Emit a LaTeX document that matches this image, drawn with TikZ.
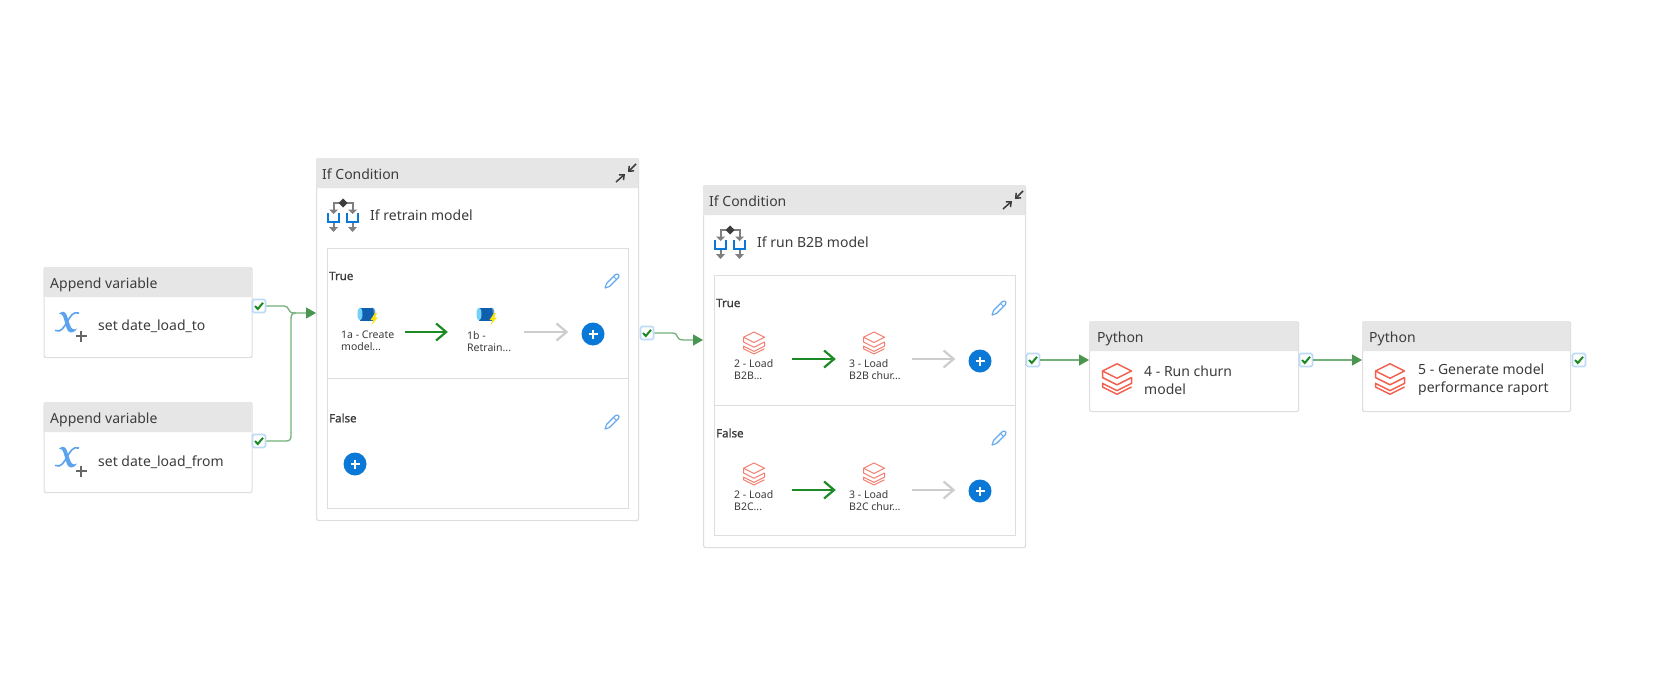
\documentclass[tikz,border=0pt]{standalone}
\usepackage{fontspec}
\setmainfont{Noto Sans}
\newfontfamily\heavyface[FakeBold=1.4]{Noto Sans}
\usetikzlibrary{arrows.meta}
\definecolor{hdrfill}{HTML}{E6E6E6}
\definecolor{edgeg}{HTML}{DEDEDE}
\definecolor{inkg}{HTML}{3C3C3C}
\definecolor{linkg}{HTML}{74B07A}
\definecolor{headg}{HTML}{4A9650}
\definecolor{okg}{HTML}{1E8A26}
\definecolor{ghost}{HTML}{CDCDCD}
\definecolor{btnb}{HTML}{0A78D7}
\definecolor{penb}{HTML}{62A9EE}
\definecolor{dbred}{HTML}{F2604F}
\definecolor{dbsoft}{HTML}{F47F70}
\definecolor{varb}{HTML}{5BA3EE}
\definecolor{pipeb}{HTML}{0F5FAE}
\definecolor{glowb}{HTML}{BBDBF7}
\tikzset{
  cardshape/.style={draw=edgeg,line width=1.2pt,fill=white,rounded corners=2pt,inner sep=0pt,anchor=north west},
  panelshape/.style={draw=edgeg,line width=1.2pt,fill=white,inner sep=0pt,anchor=north west,minimum width=301pt,minimum height=130pt},
  headtext/.style={anchor=base west,inner sep=0pt,text=inkg,font=\fontsize{14}{16}\selectfont},
  bodytext/.style={anchor=base west,inner sep=0pt,text=inkg,font=\fontsize{14}{17.6}\selectfont},
  bodytwo/.style={anchor=west,inner sep=0pt,text=inkg,font=\fontsize{14}{17.6}\selectfont,align=left},
  smalltext/.style={anchor=north west,inner sep=0pt,text=inkg,font=\fontsize{10.5}{12}\selectfont,align=left},
  boldtext/.style={anchor=west,inner sep=0pt,text=inkg,font=\fontsize{11.5}{13}\heavyface},
  chkbox/.style={draw=glowb,line width=1.6pt,fill=white,rounded corners=1.5pt,minimum size=13pt,inner sep=0pt},
  addbtn/.style={circle,fill=btnb,minimum size=23pt,inner sep=0pt},
  slotbox/.style={inner sep=0pt,minimum width=76pt,minimum height=40pt},
  link/.style={draw=linkg,line width=1.3pt,-{Triangle[length=10pt,width=11pt,color=headg]}},
  donearrow/.style={draw=okg,line width=2.2pt,-{Straight Barb[length=10pt,width=17pt]}},
  nextarrow/.style={draw=ghost,line width=2.2pt,shorten >=13pt,-{Straight Barb[length=10pt,width=17pt]}},
  dbsmall/.pic={\begin{scope}[scale=10.5]
    \draw[dbsoft,line width=1pt,line join=round] (-1,-.55)--(0,-1.05)--(1,-.55)--(0,-.05)--cycle;
    \draw[dbsoft,line width=1pt,line join=round] (-1,-.55)--(-1,-.1)--(0,.4)--(1,-.1)--(1,.3)--(0,.8)--(-1,.3)--(-1,.55)--(0,1.05)--(1,.55);
  \end{scope}},
  dbbig/.pic={\begin{scope}[scale=14.5]
    \draw[dbred,line width=1.5pt,line join=round] (-1,-.55)--(0,-1.05)--(1,-.55)--(0,-.05)--cycle;
    \draw[dbred,line width=1.5pt,line join=round] (-1,-.55)--(-1,-.1)--(0,.4)--(1,-.1)--(1,.3)--(0,.8)--(-1,.3)--(-1,.55)--(0,1.05)--(1,.55);
  \end{scope}},
  pipeicon/.pic={
    \fill[pipeb] (-7,-6.5) rectangle (6,6.5);
    \fill[cyan!55!white] (-7,0) ellipse (2.5 and 6.5);
    \fill[pipeb!60!white] (6,0) ellipse (2.5 and 6.5);
    \fill[pipeb] (5,0) ellipse (1.8 and 6.5);
    \fill[yellow!85!orange] (8,-1)--(3.5,6)--(6.5,6)--(4.5,11)--(11,3.5)--(8,3.5)--(10,-1)--cycle;
  },
  penicon/.pic={
    \draw[penb,line width=1.1pt,line join=round] (-7,7)--(-5.5,2.5)--(3.5,-6.5)--(5.5,-7)--(7,-5.5)--(6.5,-3.5)--(-2.5,5.5)--cycle;
    \draw[penb,line width=.8pt] (1.5,-4.5)--(4.5,-1.5);
  },
  varicon/.pic={
    \fill[varb] (-8,-8.5) .. controls (-4,-11.5) and (-1.5,-10.5) .. (0,-6) -- (3,3) .. controls (4,7) and (7,8.5) .. (10,6.5) .. controls (8,10) and (4,12) .. (1,9) .. controls (-1,6) and (-2,0) .. (-3,-3) .. controls (-4,-7) and (-6,-9) .. (-8,-8.5) -- cycle;
    \draw[varb,line width=1.6pt,line cap=round] (11.5,-9) .. controls (6,-11) and (3,-5) .. (0,0) .. controls (-3,5) and (-6,11) .. (-11.5,8.5);
    \draw[black!60,line width=1.8pt] (14,8.5)--(14,19.5) (8.5,14)--(19.5,14);
  },
  ificon/.pic={
    \draw[black!50,line width=2pt] (-9.5,8)--(-9.5,0)--(9.5,0)--(9.5,8);
    \draw[black!50,line width=2pt] (-9.5,19)--(-9.5,25) (9.5,19)--(9.5,25);
    \fill[black!50] (-14,24)--(-5,24)--(-9.5,29)--cycle (5,24)--(14,24)--(9.5,29)--cycle (-14,6.5)--(-5,6.5)--(-9.5,11)--cycle (5,6.5)--(14,6.5)--(9.5,11)--cycle;
    \draw[btnb,line width=2.8pt] (-15,10)--(-15,19)--(-4,19)--(-4,10) (4,10)--(4,19)--(15,19)--(15,10);
    \fill[inkg] (0,-4.5)--(4.5,0)--(0,4.5)--(-4.5,0)--cycle;
  }
}
% name, x, y, header left, header, width, height
\newcommand{\dfcard}[7]{%
  \begin{scope}[shift={(#2,#3)}]
    \node[cardshape,minimum width=#6pt,minimum height=#7pt] (#1) at (0,0) {};
    \fill[hdrfill,rounded corners=2pt] (0,30) [sharp corners]-- (0,30) [rounded corners=2pt]-- (0,0) -- (#6,0) [sharp corners]-- (#6,30) -- cycle;
    \node[headtext] (#1-head) at (#4,21.3) {#5};
  \end{scope}}
\newcommand{\dfcheck}[3]{%
  \node[chkbox] (#1) at (#2,#3) {};
  \draw[okg,line width=2pt] (#2-4,#3) -- (#2-1.2,#3+3) -- (#2+4,#3-3.2);}
\newcommand{\dfadd}[3]{%
  \node[addbtn] (#1) at (#2,#3) {};
  \draw[white,line width=1.8pt] (#2-4.5,#3)--(#2+4.5,#3) (#2,#3-4.5)--(#2,#3+4.5);}
% name, icon x, arrow y, icon pic, icon y, text left, text top, text
\newcommand{\dfact}[8]{%
  \node[slotbox] (#1) at (#2,#3) {};
  \pic at (#2,#5) {#4};
  \node[smalltext] (#1-text) at (#6,#7) {#8};}
% name, x, y, title, false label y, false pencil y
\newcommand{\dfif}[6]{%
  \begin{scope}[shift={(#2,#3)}]
    \node[cardshape,minimum width=322pt,minimum height=362pt] (#1) at (0,0) {};
    \fill[hdrfill,rounded corners=2pt] (0,30) [sharp corners]-- (0,30) [rounded corners=2pt]-- (0,0) -- (322,0) [sharp corners]-- (322,30) -- cycle;
    \node[headtext] (#1-head) at (6,21.3) {If Condition};
    \draw[inkg,line width=1.5pt,-{Straight Barb[length=4pt,width=7pt]}] (320,6)--(312,14);
    \draw[inkg,line width=1.5pt,-{Straight Barb[length=4pt,width=7pt]}] (300,24)--(309,16);
    \pic at (27,45) {ificon};
    \node[bodytext] (#1-title) at (54,62) {#4};
    \node[panelshape] (#1-true) at (11,90) {};
    \node[panelshape] (#1-false) at (11,220) {};
    \node[boldtext] (#1-tl) at (13,118) {True};
    \node[boldtext] (#1-fl) at (13,#5) {False};
    \pic at (296,123) {penicon};
    \pic at (296,#6) {penicon};
  \end{scope}}
\begin{document}
\begin{tikzpicture}[x=1pt,y=-1pt]
\fill[white] (0,0) rectangle (1671,685);
\useasboundingbox (0,0) rectangle (1671,685);

% Append variable cards
\dfcard{av1}{43.5}{267}{6.5}{Append variable}{208}{90}
\dfcard{av2}{43.5}{402}{6.5}{Append variable}{208}{90}
\pic at (67,322) {varicon};
\pic at (67,457) {varicon};
\node[bodytext] (av1-text) at (98,330.7) {set date\_load\_to};
\node[bodytext] (av2-text) at (98,466) {set date\_load\_from};

% If Condition cards
\dfif{ifa}{316}{158}{If retrain model}{260}{264}
\dfif{ifb}{703}{185}{If run B2B model}{248}{253}

% If retrain model, True and False
\dfact{a1}{367}{332}{pipeicon}{314}{341}{331}{1a - Create\\model...}
\dfact{a2}{486}{332}{pipeicon}{314}{467}{331}{1b -\\Retrain...}
\dfadd{a3}{593}{334}
\draw[donearrow] (a1.east) -- (a2.west);
\draw[nextarrow] (a2.east) -- (a2.east -| a3.west);
\dfadd{a4}{355}{464}

% If run B2B model, True
\dfact{b1}{754}{359}{dbsmall}{343}{734}{359}{2 - Load\\B2B...}
\dfact{b2}{874}{359}{dbsmall}{343}{849}{359}{3 - Load\\B2B chur...}
\dfadd{b3}{980}{361}
\draw[donearrow] (b1.east) -- (b2.west);
\draw[nextarrow] (b2.east) -- (b2.east -| b3.west);

% If run B2B model, False
\dfact{c1}{754}{490}{dbsmall}{474}{734}{490}{2 - Load\\B2C...}
\dfact{c2}{874}{490}{dbsmall}{474}{849}{490}{3 - Load\\B2C chur...}
\dfadd{c3}{980}{491}
\draw[donearrow] (c1.east) -- (c2.west);
\draw[nextarrow] (c2.east) -- (c2.east -| c3.west);

% Python cards
\dfcard{py1}{1089}{321}{8}{Python}{209}{90}
\dfcard{py2}{1362}{321}{7}{Python}{208}{90}
\pic at (1117,379) {dbbig};
\pic at (1390,379) {dbbig};
\begin{scope}
  \clip (1140,355) rectangle (1570,394.5);
  \node[bodytwo] (py1-text) at (1144,380) {4 - Run churn\\model};
  \node[bodytwo] (py2-text) at (1418,380) {5 - Generate model\\performance raport};
\end{scope}

% Status badges
\dfcheck{s1}{259}{306}
\dfcheck{s2}{259}{441}
\dfcheck{s3}{647}{333}
\dfcheck{s4}{1033}{360}
\dfcheck{s5}{1306}{360}
\dfcheck{s6}{1579}{360}

% Dependencies
\coordinate (ifaIn) at (316,313);
\coordinate (ifbIn) at (703,340);
\draw[link] (s1.east) -- (284,306) .. controls (290,306) and (287,313) .. (294,313) -- (ifaIn);
\draw[draw=linkg,line width=1.3pt] (s2.east) -- (286,441) .. controls (289.5,441) and (291,439.5) .. (291,436) -- (291,319) .. controls (291,315) and (292,313) .. (296,313);
\draw[link] (s3.east) -- (672,333) .. controls (680,333) and (674,340) .. (684,340) -- (ifbIn);
\draw[link] (s4.east) -- (py1.west |- s4.east);
\draw[link] (s5.east) -- (py2.west |- s5.east);
\end{tikzpicture}
\end{document}
